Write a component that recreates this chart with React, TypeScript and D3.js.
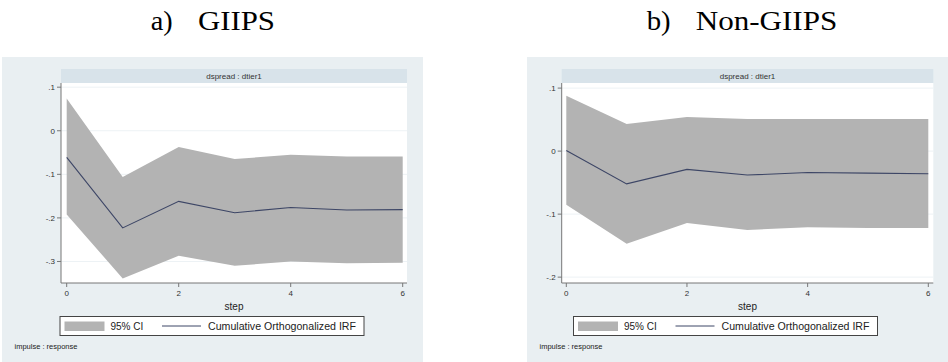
import React from "react";
import * as d3 from "d3";

const steps = [0, 1, 2, 3, 4, 5, 6];
const xTicks = [0, 2, 4, 6];

const giipsIrf = [-0.061, -0.223, -0.162, -0.188, -0.176, -0.182, -0.181];
const giipsUpper = [0.074, -0.106, -0.037, -0.065, -0.055, -0.059, -0.059];
const giipsLower = [-0.192, -0.339, -0.287, -0.31, -0.3, -0.304, -0.303];
const giipsYTicks = [0.1, 0, -0.1, -0.2, -0.3];

const nonIrf = [0.001, -0.052, -0.029, -0.038, -0.034, -0.035, -0.036];
const nonUpper = [0.088, 0.043, 0.054, 0.051, 0.051, 0.051, 0.051];
const nonLower = [-0.085, -0.147, -0.114, -0.125, -0.121, -0.122, -0.122];
const nonYTicks = [0.1, 0, -0.1, -0.2];

const fmt = (v: number) => (v === 0 ? "0" : (v < 0 ? "-" : "") + String(Math.abs(v)).replace(/^0/, ""));

type PanelProps = {
  label: string;
  name: string;
  labelX: number;
  labelLen: number;
  nameX: number;
  nameLen: number;
  ox: number;
  plotL: number;
  plotR: number;
  x0: number;
  x6: number;
  yDomain: [number, number];
  yTicks: number[];
  irf: number[];
  upper: number[];
  lower: number[];
};

const PANEL_W = 421;
const PANEL_TOP = 57;
const STRIP_TOP = 69;
const PLOT_TOP = 83;
const PLOT_BOTTOM = 283;
const SANS = "Arial, 'Liberation Sans', sans-serif";
const SERIF = "'Liberation Serif', 'Times New Roman', serif";

function Panel(p: PanelProps) {
  const x = d3.scaleLinear().domain([0, 6]).range([p.x0, p.x6]);
  const y = d3.scaleLinear().domain(p.yDomain).range([PLOT_BOTTOM, PLOT_TOP]);
  const area = d3
    .area<number>()
    .x((d) => x(d))
    .y0((d, i) => y(p.lower[i]))
    .y1((d, i) => y(p.upper[i]));
  const line = d3
    .line<number>()
    .x((d) => x(d))
    .y((d, i) => y(p.irf[i]));
  const cx = (p.plotL + p.plotR) / 2;
  const legL = cx - 174;
  const legW = 304;
  return (
    <g>
      <text x={p.labelX} y={30} fontFamily={SERIF} fontSize={28} textLength={p.labelLen} lengthAdjust="spacingAndGlyphs" fill="#000">
        {p.label}
      </text>
      <text x={p.nameX} y={30} fontFamily={SERIF} fontSize={28} textLength={p.nameLen} lengthAdjust="spacingAndGlyphs" fill="#000">
        {p.name}
      </text>
      <rect x={p.ox} y={PANEL_TOP} width={PANEL_W} height={362 - PANEL_TOP} fill="#e9eff2" />
      <rect x={p.plotL} y={STRIP_TOP} width={p.plotR - p.plotL} height={PLOT_TOP - STRIP_TOP} fill="#d8e3ea" />
      <text x={cx} y={79} fontSize={8} textAnchor="middle" fill="#333" fontFamily={SANS}>
        dspread : dtier1
      </text>
      <rect x={p.plotL} y={PLOT_TOP} width={p.plotR - p.plotL} height={PLOT_BOTTOM - PLOT_TOP} fill="#ffffff" />
      {p.yTicks.map((t) => (
        <line key={"g" + t} x1={p.plotL} x2={p.plotR} y1={y(t)} y2={y(t)} stroke="#edf2f5" strokeWidth={1} />
      ))}
      <path d={area(steps) || ""} fill="#b3b3b3" />
      <path d={line(steps) || ""} fill="none" stroke="#3d4666" strokeWidth={1.1} />
      <line x1={p.plotL} x2={p.plotL} y1={PLOT_TOP} y2={PLOT_BOTTOM} stroke="#777" strokeWidth={1} />
      <line x1={p.plotL} x2={p.plotR} y1={PLOT_BOTTOM} y2={PLOT_BOTTOM} stroke="#777" strokeWidth={1} />
      {p.yTicks.map((t) => (
        <g key={"y" + t}>
          <line x1={p.plotL - 4} x2={p.plotL} y1={y(t)} y2={y(t)} stroke="#777" />
          <text x={p.plotL - 6} y={y(t) + 3} fontSize={8} textAnchor="end" fill="#333" fontFamily={SANS}>
            {fmt(t)}
          </text>
        </g>
      ))}
      {xTicks.map((t) => (
        <g key={"x" + t}>
          <line x1={x(t)} x2={x(t)} y1={PLOT_BOTTOM} y2={PLOT_BOTTOM + 4} stroke="#777" />
          <text x={x(t)} y={PLOT_BOTTOM + 13} fontSize={8} textAnchor="middle" fill="#333" fontFamily={SANS}>
            {t}
          </text>
        </g>
      ))}
      <text x={cx} y={310} fontSize={10} textAnchor="middle" fill="#222" fontFamily={SANS}>
        step
      </text>
      <rect x={legL} y={316.5} width={legW} height={19} fill="#ffffff" stroke="#444" strokeWidth={1} />
      <rect x={legL + 4.5} y={321.5} width={40} height={9.5} fill="#b3b3b3" />
      <text x={legL + 50.5} y={330} fontSize={10} fill="#222" fontFamily={SANS}>
        95% CI
      </text>
      <line x1={legL + 102} x2={legL + 141} y1={326} y2={326} stroke="#3d4666" strokeWidth={1} />
      <text x={legL + 148} y={330} fontSize={10} fill="#222" fontFamily={SANS} textLength={148} lengthAdjust="spacingAndGlyphs">
        Cumulative Orthogonalized IRF
      </text>
      <text x={p.ox + 12.5} y={349} fontSize={7.5} fill="#222" fontFamily={SANS}>
        impulse : response
      </text>
    </g>
  );
}

export default function App() {
  return (
    <svg width={948} height={362} style={{ position: "absolute", left: 0, top: 0, background: "#fff" }}>
      <Panel
        label="a)"
        name="GIIPS"
        labelX={150.7}
        labelLen={22}
        nameX={198}
        nameLen={77}
        ox={2}
        plotL={61}
        plotR={407}
        x0={66.7}
        x6={402.7}
        yDomain={[-0.3494, 0.1096]}
        yTicks={giipsYTicks}
        irf={giipsIrf}
        upper={giipsUpper}
        lower={giipsLower}
      />
      <Panel
        label="b)"
        name="Non-GIIPS"
        labelX={646.7}
        labelLen={24}
        nameX={695.7}
        nameLen={141.6}
        ox={527}
        plotL={561.7}
        plotR={933.3}
        x0={566.3}
        x6={928.3}
        yDomain={[-0.2093, 0.1081]}
        yTicks={nonYTicks}
        irf={nonIrf}
        upper={nonUpper}
        lower={nonLower}
      />
    </svg>
  );
}
